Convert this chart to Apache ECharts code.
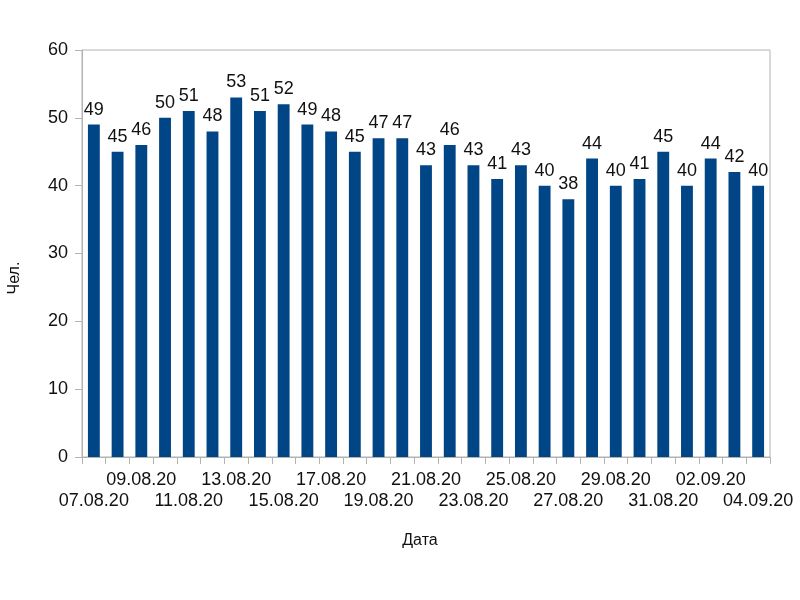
<!DOCTYPE html>
<html><head><meta charset="utf-8">
<script src="https://cdn.jsdelivr.net/npm/echarts@6/dist/echarts.min.js"></script>
<style>html,body{margin:0;padding:0;background:#fff}#c{width:800px;height:600px}</style>
</head><body><div id="c"></div>
<script>
const categories = ['07.08.20','08.08.20','09.08.20','10.08.20','11.08.20','12.08.20','13.08.20','14.08.20','15.08.20','16.08.20','17.08.20','18.08.20','19.08.20','20.08.20','21.08.20','22.08.20','23.08.20','24.08.20','25.08.20','26.08.20','27.08.20','28.08.20','29.08.20','30.08.20','31.08.20','01.09.20','02.09.20','03.09.20','04.09.20'];
const values = [49,45,46,50,51,48,53,51,52,49,48,45,47,47,43,46,43,41,43,40,38,44,40,41,45,40,44,42,40];
const yTicks = [0,10,20,30,40,50,60];
const xTitle = 'Дата';
const yTitle = 'Чел.';

const font = '"Liberation Sans", Arial, sans-serif';
const chart = echarts.init(document.getElementById('c'));
chart.setOption({
  backgroundColor: '#fff',
  animation: false,
  grid: {left: 82, right: 30, top: 50, bottom: 143, show: true, borderColor: '#b3b3b3', borderWidth: 1},
  xAxis: {
    type: 'category', data: categories,
    axisLine: {lineStyle: {color: '#b3b3b3'}},
    axisTick: {show: true, interval: 0, length: 7, lineStyle: {color: '#b3b3b3'}},
    axisLabel: {
      interval: 0, margin: 13, color: '#111', fontFamily: font, fontSize: 18, lineHeight: 21,
      formatter: (v, i) => i % 4 === 0 ? '\n' + v : (i % 4 === 2 ? v : '')
    },
    splitLine: {show: false}
  },
  yAxis: {
    type: 'value', min: yTicks[0], max: yTicks[yTicks.length-1], interval: 10,
    axisLine: {show: true, lineStyle: {color: '#b3b3b3'}},
    axisTick: {show: true, length: 7, lineStyle: {color: '#b3b3b3'}},
    axisLabel: {margin: 14, color: '#111', fontFamily: font, fontSize: 18},
    splitLine: {show: false}
  },
  series: [{
    type: 'bar', data: values, barWidth: '50%',
    itemStyle: {color: '#004586'},
    label: {show: true, position: 'top', distance: 6, color: '#111', fontFamily: font, fontSize: 18}
  }],
  graphic: [
    {type: 'text', x: 420, y: 541, style: {text: xTitle, font: '16px ' + font, fill: '#111', align: 'center', verticalAlign: 'middle'}},
    {type: 'text', x: 15, y: 278, rotation: Math.PI/2, style: {text: yTitle, font: '16px ' + font, fill: '#111', align: 'center', verticalAlign: 'middle'}}
  ]
});
</script></body></html>
